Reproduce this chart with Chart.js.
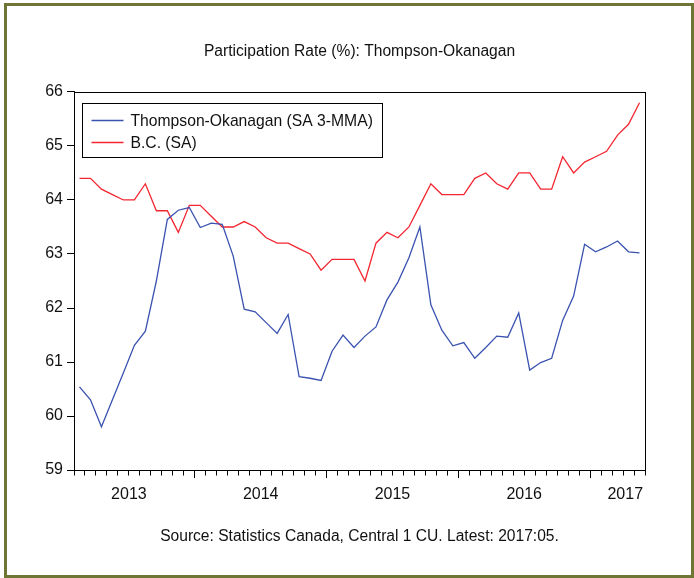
<!DOCTYPE html>
<html>
<head>
<meta charset="utf-8">
<script src="https://cdn.jsdelivr.net/npm/chart.js@4.4.1/dist/chart.umd.min.js"></script>
<style>
  html, body { margin: 0; padding: 0; background: #fff; }
  #wrap { position: relative; width: 694px; height: 578px; }
  #frame { position: absolute; left: 4px; top: 3px; right: 0; bottom: 0; border: 3px solid #6f7534; box-sizing: border-box; pointer-events: none; }
  canvas { position: absolute; left: 0; top: 0; }
</style>
</head>
<body>
<div id="wrap">
  <canvas id="chart" width="694" height="578"></canvas>
  <div id="frame"></div>
</div>
<script>
// monthly observations, 2013:02 .. 2017:05
const months = [
  "2013:02", "2013:03", "2013:04", "2013:05", "2013:06", "2013:07", "2013:08", "2013:09", "2013:10", "2013:11", "2013:12",
  "2014:01", "2014:02", "2014:03", "2014:04", "2014:05", "2014:06", "2014:07", "2014:08", "2014:09", "2014:10", "2014:11", "2014:12",
  "2015:01", "2015:02", "2015:03", "2015:04", "2015:05", "2015:06", "2015:07", "2015:08", "2015:09", "2015:10", "2015:11", "2015:12",
  "2016:01", "2016:02", "2016:03", "2016:04", "2016:05", "2016:06", "2016:07", "2016:08", "2016:09", "2016:10", "2016:11", "2016:12",
  "2017:01", "2017:02", "2017:03", "2017:04", "2017:05"
];

const thompsonOkanagan = [
  60.54, 60.30, 59.80, 60.30, 60.80, 61.31, 61.57, 62.50, 63.64, 63.81, 63.86,
  63.49, 63.57, 63.55, 62.96, 61.98, 61.93, 61.73, 61.53, 61.88, 60.73, 60.70, 60.66,
  61.20, 61.50, 61.27, 61.48, 61.65, 62.15, 62.48, 62.93, 63.50, 62.06, 61.59, 61.30,
  61.36, 61.07, 61.27, 61.48, 61.46, 61.91, 60.85, 60.99, 61.07, 61.77, 62.22, 63.18,
  63.04, 63.13, 63.24, 63.04, 63.02
];

const bcRate = [
  64.4, 64.4, 64.2, 64.1, 64.0, 64.0, 64.3, 63.8, 63.8, 63.4, 63.9,
  63.9, 63.7, 63.5, 63.5, 63.6, 63.5, 63.3, 63.2, 63.2, 63.1, 63.0, 62.7,
  62.9, 62.9, 62.9, 62.5, 63.2, 63.4, 63.3, 63.5, 63.9, 64.3, 64.1, 64.1,
  64.1, 64.4, 64.5, 64.3, 64.2, 64.5, 64.5, 64.2, 64.2, 64.8, 64.5, 64.7,
  64.8, 64.9, 65.2, 65.4, 65.8
];

const seriesLabels = ["Thompson-Okanagan (SA 3-MMA)", "B.C. (SA)"];
const yTicks = [59, 60, 61, 62, 63, 64, 65, 66];
const titleText = "Participation Rate (%): Thompson-Okanagan";
const sourceText = "Source: Statistics Canada, Central 1 CU. Latest: 2017:05.";

const BLUE = "rgb(58, 82, 176)";
const RED = "rgb(243, 38, 48)";
const FONT = "'Liberation Sans', Arial, sans-serif";

// each month sits in the middle of its own slot on a 0..n axis
const n = months.length;
const toPoints = (vals) => vals.map((v, i) => ({ x: i + 0.5, y: v }));

// tick marks at every month boundary, longer ones at January
const xTicks = [];
for (let i = 0; i <= n; i++) {
  const major = i < n && months[i].endsWith(":01");
  xTicks.push({ value: i, major2: major });
}
// year labels centred on the calendar year
const years = [...new Set(months.map((m) => m.slice(0, 4)))];
years.forEach((yr) => {
  const first = months.findIndex((m) => m.startsWith(yr));
  const jan = first - (parseInt(months[first].slice(5), 10) - 1);
  const centre = Math.min(jan + 6, n - 1.8);
  xTicks.push({ value: centre, yr: yr });
});
xTicks.sort((a, b) => a.value - b.value);

// box around the plot
const plotFrame = {
  id: "plotFrame",
  afterDraw(chart) {
    const { ctx, chartArea: a } = chart;
    ctx.save();
    ctx.strokeStyle = "#000";
    ctx.lineWidth = 1;
    ctx.strokeRect(Math.round(a.left) + 0.5, Math.round(a.top) + 0.5, Math.round(a.right - a.left), Math.round(a.bottom - a.top));
    ctx.restore();
  },
};

// boxed legend in the upper left corner of the plot
const boxLegend = {
  id: "boxLegend",
  afterDraw(chart) {
    const { ctx, chartArea: a } = chart;
    const x = Math.round(a.left) + 8.5;
    const y = Math.round(a.top) + 11.5;
    ctx.save();
    ctx.fillStyle = "#fff";
    ctx.fillRect(x, y, 300, 54);
    ctx.strokeStyle = "#000";
    ctx.lineWidth = 1;
    ctx.strokeRect(x, y, 300, 54);
    ctx.font = "15.7px " + FONT;
    ctx.textBaseline = "middle";
    chart.data.datasets.forEach((ds, i) => {
      const ly = y + 17 + i * 22;
      ctx.strokeStyle = ds.borderColor;
      ctx.lineWidth = 1.3;
      ctx.beginPath();
      ctx.moveTo(x + 9, ly);
      ctx.lineTo(x + 41, ly);
      ctx.stroke();
      ctx.fillStyle = "#111";
      ctx.fillText(ds.label, x + 48, ly + 1);
    });
    ctx.restore();
  },
};

new Chart(document.getElementById("chart"), {
  type: "line",
  data: {
    datasets: [
      {
        label: seriesLabels[0],
        data: toPoints(thompsonOkanagan),
        borderColor: BLUE,
        borderWidth: 1.3,
        pointRadius: 0,
        tension: 0,
        fill: false,
      },
      {
        label: seriesLabels[1],
        data: toPoints(bcRate),
        borderColor: RED,
        borderWidth: 1.3,
        pointRadius: 0,
        tension: 0,
        fill: false,
      },
    ],
  },
  options: {
    responsive: false,
    animation: false,
    layout: { padding: { left: 0, right: 49, top: 0, bottom: 0 } },
    plugins: {
      legend: { display: false },
      tooltip: { enabled: false },
      title: {
        display: true,
        text: titleText,
        fullSize: false,
        color: "#111",
        font: { family: FONT, size: 15.6, weight: "normal", lineHeight: 1.2 },
        padding: { top: 42.6, bottom: 30.6 },
      },
      subtitle: {
        display: true,
        position: "bottom",
        text: sourceText,
        fullSize: false,
        color: "#111",
        font: { family: FONT, size: 15.6, weight: "normal", lineHeight: 1.2 },
        padding: { top: 16.4, bottom: 31.6 },
      },
    },
    scales: {
      x: {
        type: "linear",
        min: 0,
        max: n,
        afterBuildTicks: (scale) => {
          scale.ticks = xTicks.map((t) => ({ ...t }));
        },
        ticks: {
          autoSkip: false,
          maxRotation: 0,
          padding: 7,
          color: "#111",
          font: { family: FONT, size: 16 },
          callback: (v, i, ticks) => ticks[i].yr || "",
        },
        grid: {
          drawOnChartArea: false,
          tickLength: 8,
          tickWidth: 1,
          tickColor: (c) => (c.tick && c.tick.yr ? "rgba(0,0,0,0)" : "#000"),
          tickBorderDash: (c) => (c.tick && c.tick.major2 ? [] : [4.5, 30]),
        },
        border: { display: true, color: "#000", width: 1 },
      },
      y: {
        type: "linear",
        min: yTicks[0],
        max: yTicks[yTicks.length - 1],
        afterBuildTicks: (scale) => {
          scale.ticks = yTicks.map((v) => ({ value: v }));
        },
        afterFit: (scale) => {
          scale.width = 74;
        },
        ticks: {
          padding: 4,
          color: "#111",
          font: { family: FONT, size: 16 },
        },
        grid: {
          drawOnChartArea: false,
          tickLength: 7,
          tickColor: "#000",
        },
        border: { display: true, color: "#000", width: 1 },
      },
    },
  },
  plugins: [plotFrame, boxLegend],
});
</script>
</body>
</html>
